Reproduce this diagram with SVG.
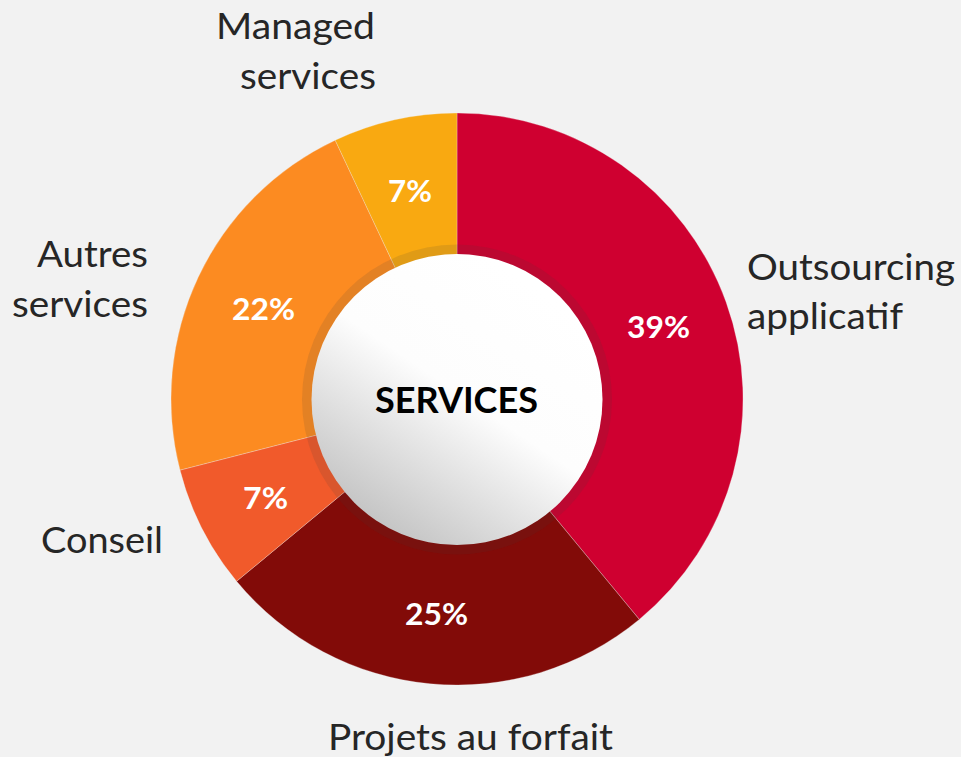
<svg xmlns="http://www.w3.org/2000/svg" width="961" height="757" viewBox="0 0 961 757">
  <defs>
    <linearGradient id="hub" x1="0.78" y1="0.12" x2="0.22" y2="0.95">
      <stop offset="0" stop-color="#ffffff"/>
      <stop offset="0.45" stop-color="#fdfdfd"/>
      <stop offset="1" stop-color="#c2c2c2"/>
    </linearGradient>
    <style>
      .lbl { font-family: Lato, "Liberation Sans", sans-serif; font-size: 37px; fill: #262626; }
      .pct { font-family: Lato, "Liberation Sans", sans-serif; font-size: 31px; font-weight: bold; fill: #ffffff; text-anchor: middle; }
      .seg { stroke: #f2f2f2; stroke-opacity: 0.35; stroke-width: 0.8; }
    </style>
  </defs>
  <rect width="961" height="757" fill="#f2f2f2"/>

  <g id="outsourcing">
    <path class="seg" d="M457,399 L457,113 A286,286 0 0 1 639.3,619.4 Z" fill="#cf0030"/>
    <text class="pct" x="658.5" y="338" textLength="63" lengthAdjust="spacingAndGlyphs">39%</text>
    <text class="lbl" x="747" y="280" textLength="208" lengthAdjust="spacingAndGlyphs">Outsourcing</text>
    <text class="lbl" x="747" y="329" textLength="156" lengthAdjust="spacingAndGlyphs">applicatif</text>
  </g>

  <g id="projets">
    <path class="seg" d="M457,399 L639.3,619.4 A286,286 0 0 1 236.6,581.3 Z" fill="#820b08"/>
    <text class="pct" x="436.5" y="625" textLength="63" lengthAdjust="spacingAndGlyphs">25%</text>
    <text class="lbl" x="328" y="750" textLength="285" lengthAdjust="spacingAndGlyphs">Projets au forfait</text>
  </g>

  <g id="conseil">
    <path class="seg" d="M457,399 L236.6,581.3 A286,286 0 0 1 180,470.1 Z" fill="#f15a2b"/>
    <text class="pct" x="265.5" y="509" textLength="45" lengthAdjust="spacingAndGlyphs">7%</text>
    <text class="lbl" x="41" y="553" textLength="122" lengthAdjust="spacingAndGlyphs">Conseil</text>
  </g>

  <g id="autres">
    <path class="seg" d="M457,399 L180,470.1 A286,286 0 0 1 335.2,140.2 Z" fill="#fc8b21"/>
    <text class="pct" x="263.5" y="320" textLength="63" lengthAdjust="spacingAndGlyphs">22%</text>
    <text class="lbl" x="37" y="267" textLength="111" lengthAdjust="spacingAndGlyphs">Autres</text>
    <text class="lbl" x="12" y="317" textLength="136" lengthAdjust="spacingAndGlyphs">services</text>
  </g>

  <g id="managed">
    <path class="seg" d="M457,399 L335.2,140.2 A286,286 0 0 1 457,113 Z" fill="#f9a911"/>
    <text class="pct" x="410" y="202" textLength="44" lengthAdjust="spacingAndGlyphs">7%</text>
    <text class="lbl" x="216" y="39" textLength="159" lengthAdjust="spacingAndGlyphs">Managed</text>
    <text class="lbl" x="240" y="89" textLength="136" lengthAdjust="spacingAndGlyphs">services</text>
  </g>

  <g id="services">
    <circle cx="457" cy="399.5" r="155" fill="#3a3a3a" fill-opacity="0.13"/>
    <circle cx="457" cy="399.5" r="145.5" fill="url(#hub)"/>
    <text x="456.5" y="413" text-anchor="middle" font-family="Lato, 'Liberation Sans', sans-serif" font-size="37" font-weight="bold" fill="#000000" textLength="163" lengthAdjust="spacingAndGlyphs">SERVICES</text>
  </g>
</svg>
